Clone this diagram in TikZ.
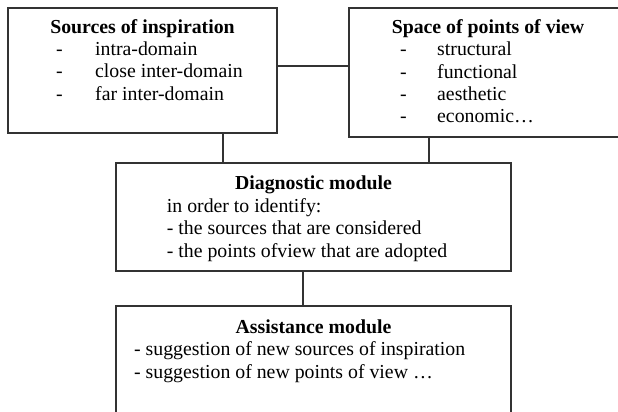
\documentclass[tikz,border=0pt]{standalone}
\usepackage{fontspec}
\setmainfont{Liberation Serif}
\usetikzlibrary{positioning}

\begin{document}
\begin{tikzpicture}[x=1pt,y=-1pt,
  box/.style={draw=black!80,line width=1.2pt,inner sep=0pt,outer sep=0pt},
  link/.style={draw=black!80,line width=1.2pt},
  txt/.style={inner sep=0pt,font=\fontsize{19.8}{22}\selectfont},
  head/.style={inner sep=0pt,font=\fontsize{19.8}{22}\selectfont\bfseries}]
\useasboundingbox (0,0) rectangle (618,412);
\clip (0,0) rectangle (618,412);

% Boxes
\node[box,minimum width=269pt,minimum height=125pt] (src) at (142.5,70.5) {};
\node[box,minimum width=278pt,minimum height=129pt] (pov) at (488,72.5) {};
\node[box,minimum width=395pt,minimum height=108pt] (diag) at (313.5,217) {};
\node[box,minimum width=395pt,minimum height=134pt] (asst) at (313.5,373) {};

% Sources of inspiration
\node[head,anchor=base] (srct) at (142.5,33.5) {Sources of inspiration};
\foreach \t [count=\i] in {intra-domain,close inter-domain,far inter-domain}{
  \node[txt,anchor=base west] (srcd\i) at (56,{33.5+22.2*\i}) {-};
  \node[txt,anchor=base west] (src\i) at (95,{33.5+22.2*\i}) {\t};
}

% Space of points of view
\node[head,anchor=base] (povt) at (488,33.5) {Space of points of view};
\foreach \t [count=\i] in {structural,functional,aesthetic,economic\dots}{
  \node[txt,anchor=base west] (povd\i) at (400,{33.5+22.3*\i}) {-};
  \node[txt,anchor=base west] (pov\i) at (437,{33.5+22.3*\i}) {\t};
}

% Diagnostic module
\node[head,anchor=base] (diagt) at (313.5,189.5) {Diagnostic module};
\node[txt,anchor=base west] (diag1) at (166.7,212) {in order to identify:};
\node[txt,anchor=base west] (diag2) at (166.7,234.5) {- the sources that are considered};
\node[txt,anchor=base west] (diag3) at (166.7,257) {- the points ofview that are adopted};

% Assistance module
\node[head,anchor=base] (asstt) at (313.5,333) {Assistance module};
\node[txt,anchor=base west] (asst1) at (134,355.5) {- suggestion of new sources of inspiration};
\node[txt,anchor=base west] (asst2) at (134,378) {- suggestion of new points of view \dots};

% Links
\draw[link] ([yshift=4.5pt]src.east) coordinate (j1) -- (j1 -| pov.west);
\draw[link] ([xshift=80.5pt]src.south) coordinate (j2) -- (j2 |- diag.north);
\draw[link] ([xshift=-59pt]pov.south) coordinate (j3) -- (j3 |- diag.north);
\draw[link] ([xshift=-10.5pt]diag.south) coordinate (j4) -- (j4 |- asst.north);

\end{tikzpicture}
\end{document}
